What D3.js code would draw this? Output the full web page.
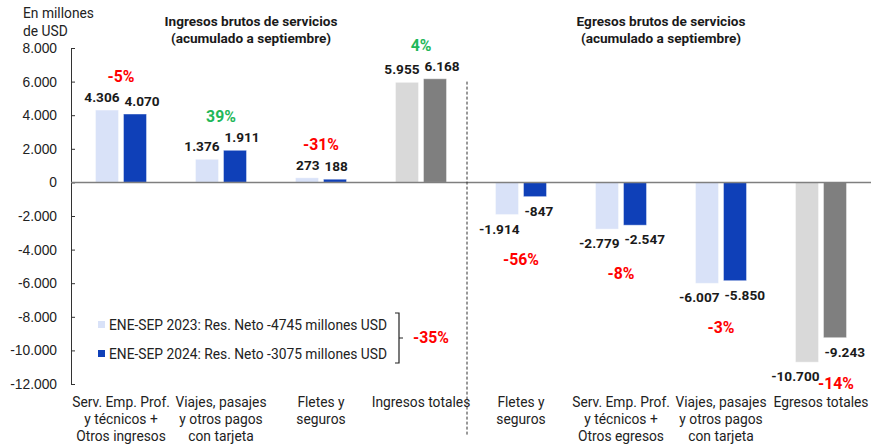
<!doctype html>
<html lang="es">
<head>
<meta charset="utf-8">
<title>Ingresos y egresos brutos de servicios</title>
<style type="text/css">
html, body { margin:0; padding:0; background:#fff; }
svg { display:block; font-family: Roboto, "Liberation Sans", sans-serif; }
.tick text { font-size:13.8px; fill:#222; }
.cat { font-size:13.8px; fill:#222; text-anchor:middle; }
.val { font-size:13.6px; font-weight:700; fill:#1a1a1a; }
.pct { font-size:15.8px; font-weight:700; text-anchor:middle; }
.ttl { font-size:13.6px; font-weight:700; fill:#1a1a1a; text-anchor:middle; }
.leg { font-size:13.8px; fill:#222; }
</style>
<script src="https://cdn.jsdelivr.net/npm/d3@7"></script>
</head>
<body>
<svg id="chart" width="871" height="446"></svg>
<script type="text/javascript">
// categories (ingresos first, egresos after)
const categories = [
	"Serv. Emp. Prof.|y técnicos +|Otros ingresos",
	"Viajes, pasajes|y otros pagos|con tarjeta",
	"Fletes y|seguros",
	"Ingresos totales",
	"Fletes y|seguros",
	"Serv. Emp. Prof.|y técnicos +|Otros egresos",
	"Viajes, pasajes|y otros pagos|con tarjeta",
	"Egresos totales"
];
const values2023 = [4306, 1376, 273, 5955, -1914, -2779, -6007, -10700];
const values2024 = [4070, 1911, 188, 6168, -847, -2547, -5850, -9243];
const variation = ["-5%", "39%", "-31%", "4%", "-56%", "-8%", "-3%", "-14%"];
const isTotal = [false, false, false, true, false, false, false, true];
const yTicks = [8000, 6000, 4000, 2000, 0, -2000, -4000, -6000, -8000, -10000, -12000];
const legendLabels = [
	"ENE-SEP 2023: Res. Neto -4745 millones USD",
	"ENE-SEP 2024: Res. Neto -3075 millones USD"
];
const netVariation = "-35%";
const panelTitles = [
	["Ingresos brutos de servicios", "(acumulado a septiembre)"],
	["Egresos brutos de servicios", "(acumulado a septiembre)"]
];

const colors = {
	light: "#d9e2f8", dark: "#0f40b8",
	lightTotal: "#d9d9d9", darkTotal: "#7f7f7f",
	up: "#1fb85a", down: "#ff0000"
};

const svg = d3.select("#chart");
const left = 71, right = 871;

const x = d3.scaleBand().domain(d3.range(categories.length)).range([left, right]);
const y = d3.scaleLinear().domain([-12000, 8000]).range([384, 48]);

const es = d3.formatLocale({decimal: ",", thousands: ".", grouping: [3], currency: ["", ""], minus: "-"});
const fmt = es.format(",.0f");

// y axis
const yAxis = svg.append("g")
	.attr("transform", "translate(" + left + ",0)")
	.call(d3.axisLeft(y).tickValues(yTicks).tickFormat(fmt).tickSize(-4).tickSizeOuter(0).tickPadding(14));
yAxis.select(".domain").attr("stroke", "#333");
yAxis.selectAll(".tick line").attr("stroke", "#333");
yAxis.selectAll(".tick text").attr("font-size", null).attr("font-family", null);

// unit label
svg.append("text").attr("class", "leg").attr("x", 23).attr("y", 18).text("En millones");
svg.append("text").attr("class", "leg").attr("x", 23).attr("y", 36).text("de USD");

// bars
const barW = 23, gap = 5;
const rows = categories.map((c, i) => ({i, a: values2023[i], b: values2024[i], pct: variation[i], total: isTotal[i]}));

const g = svg.append("g");
rows.forEach(d => {
	const cx = x(d.i) + x.bandwidth() / 2;
	const xa = cx - gap / 2 - barW, xb = cx + gap / 2;
	[[d.a, xa, d.total ? colors.lightTotal : colors.light],
	 [d.b, xb, d.total ? colors.darkTotal : colors.dark]].forEach(([v, bx, col]) => {
		g.append("rect")
			.attr("x", bx).attr("width", barW)
			.attr("y", Math.min(y(v), y(0)))
			.attr("height", Math.abs(y(v) - y(0)))
			.attr("fill", col)
			.attr("stroke", "#fff").attr("stroke-opacity", 0.4).attr("stroke-width", 1);
	});

	// value labels
	const pos = d.a >= 0;
	const ly = v => pos ? y(v) - 8 : y(v) + 19;
	g.append("text").attr("class", "val")
		.attr("x", xa + barW + 1).attr("y", ly(d.a))
		.attr("text-anchor", "end").text(fmt(d.a));
	g.append("text").attr("class", "val")
		.attr("x", xb + 1).attr("y", ly(d.b))
		.attr("text-anchor", "start").text(fmt(d.b));

	// variation annotation
	let py, px = cx;
	if (pos) {
		py = Math.min(ly(d.a), ly(d.b)) - 20;
	} else {
		py = Math.max(ly(d.a), ly(d.b)) + 31;
		if (py > 389) { py = 389; px = cx + 15; }
	}
	g.append("text").attr("class", "pct")
		.attr("x", px).attr("y", py)
		.attr("fill", d.pct.startsWith("-") ? colors.down : colors.up)
		.text(d.pct);
});

// zero line
svg.append("line")
	.attr("x1", left).attr("x2", right)
	.attr("y1", y(0)).attr("y2", y(0))
	.attr("stroke", "#7f7f7f").attr("stroke-width", 1.5);

// divider between ingresos and egresos
const split = x(4) - 4;
svg.append("line")
	.attr("x1", split).attr("x2", split)
	.attr("y1", y(6000)).attr("y2", 436)
	.attr("stroke", "#333").attr("stroke-width", 1)
	.attr("stroke-dasharray", "3,2");

// panel titles
const titleCenters = [(x(0) + x(3) + x.bandwidth()) / 2 - 20, (x(4) + x(7) + x.bandwidth()) / 2 - 10];
panelTitles.forEach((t, k) => {
	t.forEach((line, j) => {
		svg.append("text").attr("class", "ttl")
			.attr("x", titleCenters[k]).attr("y", 26 + j * 17)
			.text(line);
	});
});

// category labels
categories.forEach((c, i) => {
	c.split("|").forEach((line, j) => {
		svg.append("text").attr("class", "cat")
			.attr("x", x(i) + x.bandwidth() / 2)
			.attr("y", 407 + j * 17)
			.text(line);
	});
});

// legend
const legY = [325, 354];
legendLabels.forEach((t, k) => {
	svg.append("rect")
		.attr("x", 98).attr("y", legY[k] - 4).attr("width", 7).attr("height", 7)
		.attr("fill", k === 0 ? colors.light : colors.dark);
	svg.append("text").attr("class", "leg")
		.attr("x", 109).attr("y", legY[k] + 5)
		.text(t);
});

// bracket with net variation
const bx = 399, by0 = 313, by1 = 363, bmid = (by0 + by1) / 2;
svg.append("path")
	.attr("d", "M" + (bx - 4) + "," + by0 + "H" + bx + "V" + by1 + "H" + (bx - 4) + "M" + bx + "," + bmid + "H" + (bx + 4))
	.attr("fill", "none").attr("stroke", "#222").attr("stroke-width", 1.2);
svg.append("text").attr("class", "pct")
	.attr("x", 431).attr("y", bmid + 5)
	.attr("fill", colors.down)
	.text(netVariation);
</script>
</body>
</html>
